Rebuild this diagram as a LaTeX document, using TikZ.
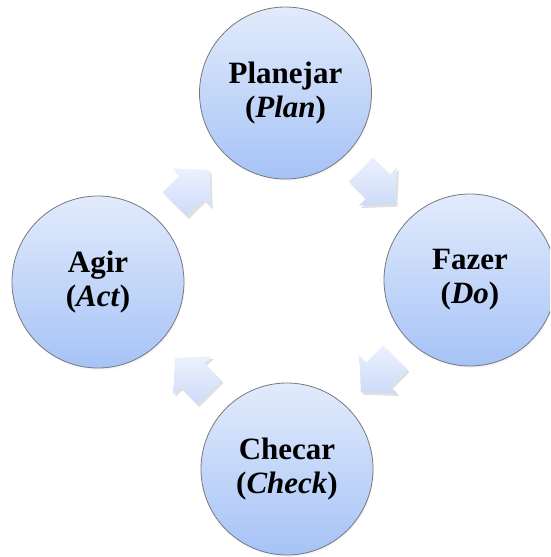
\documentclass[tikz,border=0pt]{standalone}
\usepackage{fontspec}
\setmainfont{Liberation Serif}
\usetikzlibrary{shadows,calc}
\definecolor{ctop}{RGB}{226,235,252}
\definecolor{cbot}{RGB}{166,195,246}
\definecolor{atop}{RGB}{236,241,253}
\definecolor{abot}{RGB}{205,219,249}
\definecolor{cedge}{RGB}{120,120,125}
\tikzset{
  phase/.style={circle, minimum size=172pt, inner sep=0pt, draw=cedge, line width=0.8pt,
    top color=ctop, bottom color=cbot,
    circular drop shadow={shadow xshift=1pt, shadow yshift=-2.5pt, shadow scale=1.0, opacity=0.45},
    align=center, font=\fontsize{31}{34}\selectfont\bfseries,
    execute at begin node={\rule{0pt}{32pt}}},
  arrowfill/.style={top color=atop, bottom color=abot, draw=none,
    drop shadow={shadow xshift=2pt, shadow yshift=-2.5pt, opacity=0.12, fill=black}},
  pics/bigarrow/.style={code={
    \path[arrowfill] (#1:25) -- ({#1+90}:27) -- ({#1+90}:17) -- ({#1+144.7}:29.4)
      -- ({#1+215.3}:29.4) -- ({#1-90}:17) -- ({#1-90}:27) -- cycle;
  }}
}
\begin{document}
\begin{tikzpicture}[x=1pt,y=-1pt]
\useasboundingbox (0,0) rectangle (550,557);
\clip (0,0) rectangle (550,557);
\node[phase] (T) at (285.5,93) {Planejar\\(\textit{Plan})};
\node[phase] (R) at (470,280) {Fazer\\(\textit{Do})};
\node[phase] (B) at (287,469) {Checar\\(\textit{Check})};
\node[phase] (L) at (98,282) {Agir\\(\textit{Act})};
\coordinate (m1) at ($(L.center)!0.5!(T.center)$);
\coordinate (m2) at ($(T.center)!0.5!(R.center)$);
\coordinate (m3) at ($(R.center)!0.5!(B.center)$);
\coordinate (m4) at ($(B.center)!0.5!(L.center)$);
\pic at (m1) {bigarrow=-45};
\pic at (m2) {bigarrow=45};
\pic at (m3) {bigarrow=135};
\pic at (m4) {bigarrow=-135};
\end{tikzpicture}
\end{document}
